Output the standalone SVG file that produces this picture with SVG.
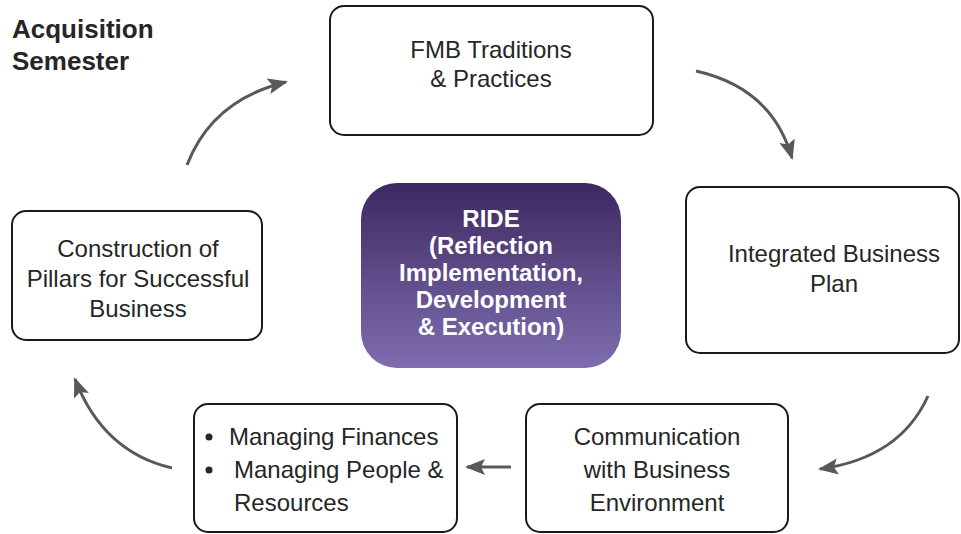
<svg xmlns="http://www.w3.org/2000/svg" width="961" height="534" viewBox="0 0 961 534">
<defs>
<linearGradient id="g" x1="0" y1="0" x2="0" y2="1">
<stop offset="0" stop-color="#3d2960"/>
<stop offset="1" stop-color="#7f6db0"/>
</linearGradient>
<marker id="ah" markerUnits="userSpaceOnUse" markerWidth="22" markerHeight="18" refX="18" refY="8" orient="auto">
<path d="M0,0 L20,8 L0,16 L4,8 Z" fill="#595959"/>
</marker>
<style>
.box{fill:#fff;stroke:#1a1a1a;stroke-width:2}
.t{font-family:"Liberation Sans",Arial,sans-serif;font-size:24px;fill:#262626}
.c{text-anchor:middle}
.w{font-family:"Liberation Sans",Arial,sans-serif;font-size:24px;font-weight:bold;fill:#fff;text-anchor:middle}
.a{fill:none;stroke:#595959;stroke-width:3;marker-end:url(#ah)}
</style>
</defs>
<rect width="961" height="534" fill="#fff"/>
<g id="title">
<text x="12" y="38" font-family="Liberation Sans,Arial,sans-serif" font-size="26" font-weight="bold" fill="#262626">Acquisition</text>
<text x="12" y="70" font-family="Liberation Sans,Arial,sans-serif" font-size="26" font-weight="bold" fill="#262626">Semester</text>
</g>
<g id="fmb">
<rect class="box" x="330" y="6" width="323" height="129" rx="14"/>
<text class="t c" x="491" y="58">FMB Traditions</text>
<text class="t c" x="491" y="87">&amp; Practices</text>
</g>
<g id="ibp">
<rect class="box" x="686" y="187" width="273" height="166" rx="14"/>
<text class="t c" x="834" y="262">Integrated Business</text>
<text class="t c" x="834" y="292">Plan</text>
</g>
<g id="comm">
<rect class="box" x="526" y="404" width="262" height="128" rx="14"/>
<text class="t c" x="657" y="445">Communication</text>
<text class="t c" x="657" y="478">with Business</text>
<text class="t c" x="657" y="511">Environment</text>
</g>
<g id="manage">
<rect class="box" x="194" y="404" width="263" height="128" rx="14"/>
<circle cx="209" cy="437" r="3.5" fill="#262626"/>
<circle cx="209" cy="470" r="3.5" fill="#262626"/>
<text class="t" x="229" y="445">Managing Finances</text>
<text class="t" x="234" y="478">Managing People &amp;</text>
<text class="t" x="234" y="511">Resources</text>
</g>
<g id="pillars">
<rect class="box" x="12" y="211" width="250" height="129" rx="14"/>
<text class="t c" x="138" y="257">Construction of</text>
<text class="t c" x="138" y="287">Pillars for Successful</text>
<text class="t c" x="138" y="317">Business</text>
</g>
<g id="ride">
<rect x="361" y="183" width="260" height="185" rx="36" fill="url(#g)"/>
<text class="w" x="491" y="227">RIDE</text>
<text class="w" x="491" y="254">(Reflection</text>
<text class="w" x="491" y="281">Implementation,</text>
<text class="w" x="491" y="308">Development</text>
<text class="w" x="491" y="335">&amp; Execution)</text>
</g>
<g id="connectors">
<path class="a" d="M187,165 Q212,100 286,82"/>
<path class="a" d="M696,71 Q772,88 792,158"/>
<path class="a" d="M928,396 Q900,458 820,469"/>
<path class="a" d="M172,468 Q103,452 75,379"/>
<path class="a" d="M511,467 L467,467"/>
</g>
</svg>
